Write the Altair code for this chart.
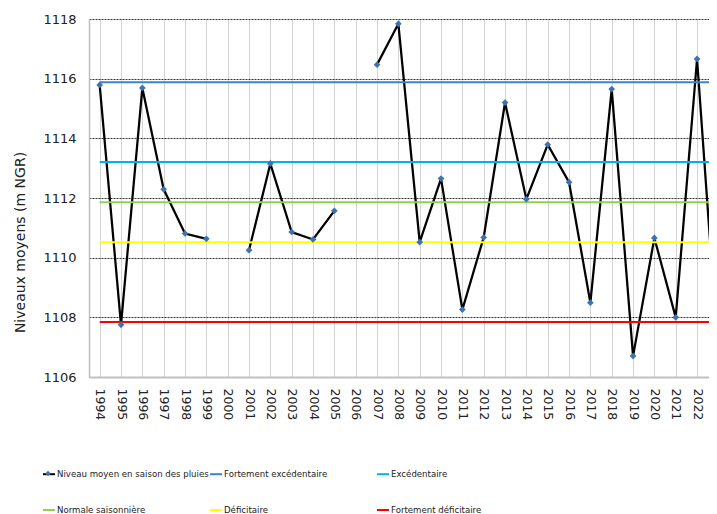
import altair as alt
import pandas as pd

years = list(range(1994, 2024))
niveau = [1115.79, 1107.75, 1115.69, 1112.29, 1110.81, 1110.63, None, 1110.25,
          1113.15, 1110.86, 1110.61, 1111.57, None, 1116.47, 1117.84, 1110.52,
          1112.65, 1108.26, 1110.68, 1115.20, 1111.96, 1113.79, 1112.53, 1108.49,
          1115.65, 1106.70, 1110.66, 1108.00, 1116.66, 1106.64]

series_names = ["Niveau moyen en saison des pluies", "Fortement excédentaire",
                "Excédentaire", "Normale saisonnière", "Déficitaire",
                "Fortement déficitaire"]
series_colors = ["#000000", "#3a84d2", "#00b0f0", "#92d050", "#ffff00", "#ff0000"]
seuils = [1115.88, 1113.21, 1111.86, 1110.52, 1107.84]

main_df = pd.DataFrame({"annee": years, "niveau": niveau,
                        "serie": series_names[0], "marqueur": "m"})
rows = []
for name, v in zip(series_names[1:], seuils):
    for y in years:
        rows.append({"annee": y, "niveau": v, "serie": name})
thr_df = pd.DataFrame(rows)

font = "DejaVu Sans"
marker_color = "#3f72b3"
xscale = alt.Scale(domain=[1993.5, 2022.56], zero=False, nice=False)
yscale = alt.Scale(domain=[1106, 1118], zero=False, nice=False)

color = alt.Color(
    "serie:N",
    scale=alt.Scale(domain=series_names, range=series_colors),
    legend=alt.Legend(
        title=None, orient="none", legendX=-47, legendY=448, columns=3,
        direction="horizontal",
        gridAlign="all", columnPadding=-10, rowPadding=24,
        symbolType="stroke", symbolSize=144, symbolStrokeWidth=2,
        labelFont=font, labelFontSize=8.6, labelColor="#222222", labelOffset=1,
        labelLimit=300),
)

shape = alt.Shape(
    "marqueur:N",
    scale=alt.Scale(domain=["m"], range=["diamond"]),
    legend=alt.Legend(
        title=None, orient="none", legendX=-44, legendY=451.5,
        symbolSize=30, symbolFillColor=marker_color, symbolStrokeWidth=0,
        labelOpacity=0, labelFontSize=1, labelLimit=5),
)

x = alt.X("annee:Q", scale=xscale, title=None,
          axis=alt.Axis(values=years, format="d", labelAngle=90, labelFont=font,
                        labelFontSize=12.5, labelColor="#222222", labelPadding=11,
                        ticks=False, grid=True, gridColor="#d4d4d4", gridWidth=1,
                        domainColor="#bfbfbf", domainWidth=2, labelFlush=False,
                        labelOverlap=False))
y = alt.Y("niveau:Q", scale=yscale, title="Niveaux moyens (m NGR)",
          axis=alt.Axis(values=list(range(1106, 1119, 2)), format="d",
                        labelFont=font,
                        labelFontSize=13, labelColor="#222222", labelPadding=13,
                        ticks=False, grid=True, gridColor="#000000",
                        gridDash=[2, 1], gridWidth=1, gridOpacity=0.8,
                        domainColor="#bfbfbf", domainWidth=1.5,
                        titleFont=font, titleFontSize=14, titleFontWeight="normal",
                        titleColor="#222222", titlePadding=15, titleY=223))

base_main = alt.Chart(main_df)
line = base_main.mark_line(strokeWidth=2.25, clip=True,
                           invalid="break-paths-show-domains").encode(
    x=x, y=y, color=color)
thr = alt.Chart(thr_df).mark_line(strokeWidth=2, clip=True).encode(
    x=x, y=y, color=color)
pts = base_main.mark_point(filled=True, size=45, opacity=1, clip=True,
                           color=marker_color).encode(
    x=x, y=y, shape=shape)

chart = alt.layer(line, thr, pts).properties(
    width=620, height=358,
    autosize=alt.AutoSizeParams(type="none"),
    padding={"left": 81, "top": 11, "right": 0, "bottom": 137},
).configure_view(stroke=None)

chart.save("out.html", embed_options={"renderer": "svg", "actions": False})
